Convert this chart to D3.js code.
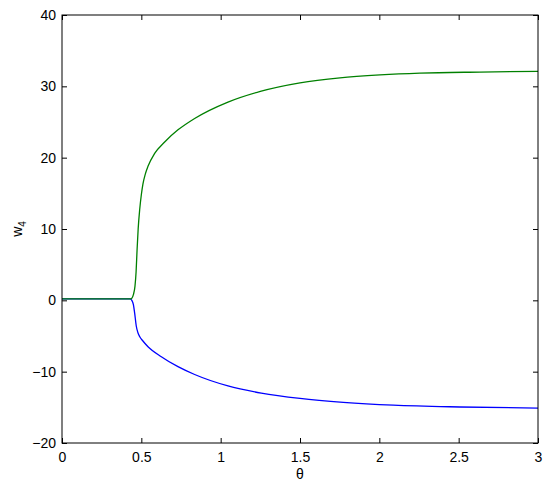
<!DOCTYPE html>
<html>
<head>
<script src="https://d3js.org/d3.v7.min.js"></script>
<style>
body { margin: 0; background: #fff; }
text { font-family: "Liberation Sans", Arial, sans-serif; }
</style>
</head>
<body>
<svg width="550" height="488"></svg>
<script>
var thetaUpper = [0, 0.2, 0.43, 0.44, 0.45, 0.46, 0.467, 0.473, 0.48, 0.49, 0.50, 0.51, 0.525, 0.542, 0.584, 0.647, 0.731, 0.836, 1.046, 1.25, 1.5, 1.752, 2.004, 2.256, 2.634, 3.0];
var wUpper     = [0.2, 0.2, 0.2, 0.3, 0.8, 2.0, 4.0, 7.0, 10.0, 12.8, 14.8, 16.3, 17.7, 18.8, 20.6, 22.2, 23.9, 25.5, 27.8, 29.3, 30.5, 31.2, 31.6, 31.85, 32.0, 32.1];
var thetaLower = [0, 0.2, 0.43, 0.44, 0.45, 0.458, 0.468, 0.478, 0.49, 0.51, 0.542, 0.626, 0.731, 0.836, 1.046, 1.256, 1.5, 1.773, 2.088, 2.508, 3.0];
var wLower     = [0.2, 0.2, 0.2, 0.0, -0.6, -1.8, -3.6, -4.5, -5.1, -5.7, -6.5, -7.9, -9.3, -10.4, -12.0, -13.0, -13.75, -14.3, -14.7, -14.95, -15.1];
var xTicks = [0, 0.5, 1, 1.5, 2, 2.5, 3];
var yTicks = [-20, -10, 0, 10, 20, 30, 40];

var mLeft = 62, mRight = 538, mTop = 15, mBottom = 443;
var svg = d3.select("svg");
var x = d3.scaleLinear().domain([0, 3]).range([mLeft, mRight]);
var y = d3.scaleLinear().domain([-20, 40]).range([mBottom, mTop]);

var line = d3.line()
  .x(function(d) { return x(d[0]); })
  .y(function(d) { return y(d[1]); })
  .curve(d3.curveMonotoneX);

svg.append("path")
  .datum(d3.zip(thetaLower, wLower))
  .attr("d", line).attr("fill", "none").attr("stroke", "#0000ff").attr("stroke-width", 1.3);
svg.append("path")
  .datum(d3.zip(thetaUpper, wUpper))
  .attr("d", line).attr("fill", "none").attr("stroke", "#008000").attr("stroke-width", 1.3);

// box with inward ticks on all sides
function style(g) {
  g.select(".domain").remove();
  g.selectAll(".tick line").attr("stroke", "#000");
  g.selectAll(".tick text").attr("font-size", 14).attr("fill", "#000");
}
svg.append("g").attr("transform", "translate(0," + mBottom + ")")
  .call(d3.axisBottom(x).tickValues(xTicks).tickSizeInner(-5).tickPadding(9).tickFormat(d3.format("")))
  .call(style);
svg.append("g").attr("transform", "translate(0," + mTop + ")")
  .call(d3.axisTop(x).tickValues(xTicks).tickSizeInner(-5).tickFormat(""))
  .call(style);
svg.append("g").attr("transform", "translate(" + mLeft + ",0)")
  .call(d3.axisLeft(y).tickValues(yTicks).tickSizeInner(-5).tickPadding(6))
  .call(style);
svg.append("g").attr("transform", "translate(" + mRight + ",0)")
  .call(d3.axisRight(y).tickValues(yTicks).tickSizeInner(-5).tickFormat(""))
  .call(style);
svg.append("rect")
  .attr("x", mLeft).attr("y", mTop).attr("width", mRight - mLeft).attr("height", mBottom - mTop)
  .attr("fill", "none").attr("stroke", "#000").attr("stroke-width", 1);

// axis labels
svg.append("text").attr("x", (mLeft + mRight) / 2).attr("y", 479)
  .attr("text-anchor", "middle").attr("font-size", 14).text("θ");
var yl = svg.append("text").attr("transform", "translate(22," + ((mTop + mBottom) / 2) + ") rotate(-90)")
  .attr("text-anchor", "middle").attr("font-size", 14);
yl.append("tspan").text("w");
yl.append("tspan").attr("font-size", 10).attr("dy", 4).text("4");
</script>
</body>
</html>
